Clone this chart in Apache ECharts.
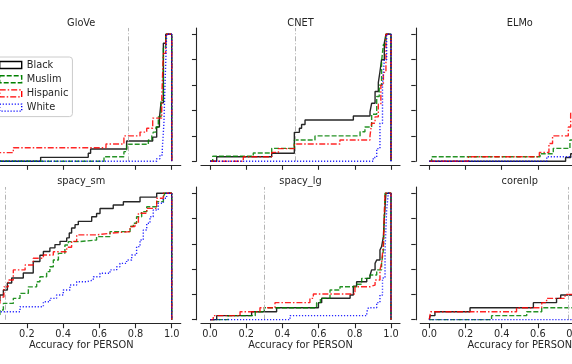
<!DOCTYPE html>
<html><head><meta charset="utf-8">
<script src="https://cdn.jsdelivr.net/npm/echarts@6/dist/echarts.min.js"></script>
<style>html,body{margin:0;padding:0;background:#fff}#c{width:572px;height:364px}</style>
</head><body><div id="c"></div>
<script>
const groups = ['Black', 'Muslim', 'Hispanic', 'White'];
const panels = ['GloVe', 'CNET', 'ELMo', 'spacy_sm', 'spacy_lg', 'corenlp'];
const thresholds = [0.757, 0.466, 0.88, 0.077, 0.298, 0.773];
const xTicks = [0, 0.2, 0.4, 0.6, 0.8, 1.0];
const yTicks = [0, 0.2, 0.4, 0.6, 0.8, 1.0];
const xTitle = 'Accuracy for PERSON';

// [accuracy, cumulative fraction]
const glove_black = [[0,0],[0.276,0.031],[0.539,0.063],[0.552,0.097],[0.751,0.16],[0.895,0.19],[0.917,0.27],[0.932,0.34],[0.941,0.46],[0.954,0.93],[0.967,1],[1,1],[1,0]];
const glove_muslim = [[0,0],[0.626,0.036],[0.736,0.076],[0.751,0.134],[0.871,0.168],[0.89,0.2],[0.899,0.23],[0.913,0.27],[0.926,0.35],[0.941,0.48],[0.954,0.9],[0.967,1],[1,1],[1,0]];
const glove_hispanic = [[0,0],[0.01,0.068],[0.125,0.107],[0.637,0.136],[0.736,0.2],[0.825,0.23],[0.862,0.26],[0.895,0.34],[0.945,0.5],[0.954,0.85],[0.967,1],[1,1],[1,0]];
const glove_white = [[0,0],[0.917,0.02],[0.935,0.05],[0.948,0.1],[0.957,0.3],[0.963,0.6],[0.972,1],[1,1],[1,0]];

const cnet_black = [[0,0],[0.037,0.036],[0.341,0.063],[0.466,0.228],[0.494,0.26],[0.506,0.29],[0.525,0.325],[0.792,0.357],[0.884,0.39],[0.893,0.457],[0.912,0.55],[0.93,0.62],[0.939,0.705],[0.948,0.8],[0.963,0.93],[0.972,1],[1,1],[1,0]];
const cnet_muslim = [[0,0],[0.015,0.04],[0.239,0.065],[0.341,0.102],[0.466,0.168],[0.58,0.2],[0.829,0.233],[0.856,0.27],[0.893,0.37],[0.921,0.51],[0.935,0.6],[0.948,0.79],[0.958,0.92],[0.972,1],[1,1],[1,0]];
const cnet_hispanic = [[0,0],[0.184,0.036],[0.341,0.07],[0.378,0.1],[0.466,0.136],[0.718,0.168],[0.884,0.2],[0.893,0.3],[0.912,0.35],[0.93,0.45],[0.944,0.6],[0.958,0.7],[0.972,1],[1,1],[1,0]];
const cnet_white = [[0,0],[0.902,0.03],[0.921,0.1],[0.939,0.3],[0.953,0.6],[0.963,0.8],[0.976,1],[1,1],[1,0]];

const elmo_black = [[0,0],[0.753,0.03],[0.781,0.06],[0.85,0.1],[0.9,0.2],[0.95,0.5],[0.97,1],[1,1],[1,0]];
const elmo_muslim = [[0,0],[0.013,0.036],[0.612,0.06],[0.685,0.102],[0.777,0.168],[0.85,0.25],[0.9,0.4],[0.95,0.7],[0.97,1],[1,1],[1,0]];
const elmo_hispanic = [[0,0],[0.216,0.036],[0.608,0.07],[0.661,0.14],[0.681,0.2],[0.768,0.27],[0.781,0.378],[0.85,0.45],[0.9,0.55],[0.95,0.8],[0.97,1],[1,1],[1,0]];
const elmo_white = [[0,0],[0.649,0.036],[0.8,0.06],[0.9,0.1],[0.95,0.4],[0.975,1],[1,1],[1,0]];

const sm_black = [[0,0],[0.02,0.15],[0.051,0.195],[0.07,0.235],[0.092,0.29],[0.116,0.33],[0.18,0.37],[0.235,0.46],[0.272,0.51],[0.291,0.54],[0.327,0.568],[0.355,0.594],[0.383,0.62],[0.42,0.647],[0.434,0.686],[0.447,0.726],[0.466,0.752],[0.484,0.778],[0.558,0.815],[0.585,0.84],[0.604,0.88],[0.677,0.907],[0.733,0.933],[0.825,0.97],[0.917,1],[1,1],[1,0]];
const sm_muslim = [[0,0],[0.03,0.04],[0.051,0.077],[0.07,0.129],[0.125,0.169],[0.162,0.208],[0.208,0.26],[0.254,0.3],[0.272,0.34],[0.309,0.38],[0.327,0.419],[0.346,0.472],[0.374,0.525],[0.41,0.591],[0.429,0.618],[0.493,0.631],[0.585,0.657],[0.659,0.697],[0.77,0.737],[0.788,0.763],[0.806,0.815],[0.834,0.855],[0.862,0.894],[0.917,0.934],[0.954,0.974],[0.963,1],[1,1],[1,0]];
const sm_hispanic = [[0,0],[0.02,0.13],[0.051,0.18],[0.073,0.26],[0.097,0.314],[0.125,0.394],[0.19,0.433],[0.235,0.486],[0.291,0.512],[0.346,0.538],[0.42,0.573],[0.447,0.62],[0.475,0.671],[0.585,0.684],[0.659,0.697],[0.77,0.737],[0.797,0.763],[0.816,0.842],[0.862,0.881],[0.917,0.961],[0.954,1],[1,1],[1,0]];
const sm_white = [[0,0],[0.04,0.063],[0.162,0.103],[0.291,0.142],[0.327,0.169],[0.364,0.195],[0.401,0.235],[0.438,0.274],[0.475,0.3],[0.53,0.314],[0.567,0.34],[0.604,0.367],[0.659,0.394],[0.696,0.419],[0.714,0.446],[0.751,0.472],[0.779,0.512],[0.806,0.578],[0.825,0.631],[0.843,0.71],[0.862,0.763],[0.88,0.815],[0.898,0.868],[0.926,0.921],[0.954,0.961],[0.972,1],[1,1],[1,0]];

const lg_black = [[0,0],[0.037,0.032],[0.23,0.063],[0.368,0.095],[0.599,0.135],[0.617,0.17],[0.774,0.195],[0.792,0.266],[0.81,0.3],[0.866,0.327],[0.884,0.35],[0.893,0.394],[0.912,0.446],[0.921,0.472],[0.939,0.551],[0.948,0.578],[0.958,0.657],[0.963,0.802],[0.972,1],[1,1],[1,0]];
const lg_muslim = [[0,0],[0.1,0.032],[0.25,0.063],[0.3,0.095],[0.589,0.135],[0.61,0.169],[0.663,0.235],[0.718,0.261],[0.81,0.28],[0.838,0.327],[0.884,0.354],[0.921,0.394],[0.948,0.446],[0.958,0.55],[0.967,1],[1,1],[1,0]];
const lg_hispanic = [[0,0],[0.018,0.032],[0.166,0.063],[0.276,0.095],[0.359,0.135],[0.552,0.169],[0.571,0.203],[0.801,0.261],[0.884,0.274],[0.912,0.314],[0.939,0.394],[0.948,0.446],[0.958,0.604],[0.967,1],[1,1],[1,0]];
const lg_white = [[0,0],[0.442,0.032],[0.866,0.06],[0.875,0.095],[0.921,0.135],[0.939,0.195],[0.953,0.33],[0.967,0.55],[0.976,0.87],[0.985,1],[1,1],[1,0]];

const core_black = [[0,0],[0.005,0.032],[0.031,0.063],[0.225,0.095],[0.575,0.135],[0.703,0.169],[0.726,0.195],[0.85,0.25],[0.92,0.35],[0.96,0.6],[0.975,1],[1,1],[1,0]];
const core_muslim = [[0,0],[0.344,0.032],[0.538,0.063],[0.621,0.095],[0.8,0.13],[0.9,0.2],[0.95,0.45],[0.975,1],[1,1],[1,0]];
const core_hispanic = [[0,0],[0.007,0.063],[0.482,0.095],[0.621,0.135],[0.648,0.169],[0.75,0.2],[0.85,0.26],[0.92,0.36],[0.96,0.6],[0.975,1],[1,1],[1,0]];
const core_white = [[0,0],[0.85,0.02],[0.93,0.08],[0.96,0.3],[0.985,1],[1,1],[1,0]];

const panelData = [
  [glove_black, glove_muslim, glove_hispanic, glove_white],
  [cnet_black, cnet_muslim, cnet_hispanic, cnet_white],
  [elmo_black, elmo_muslim, elmo_hispanic, elmo_white],
  [sm_black, sm_muslim, sm_hispanic, sm_white],
  [lg_black, lg_muslim, lg_hispanic, lg_white],
  [core_black, core_muslim, core_hispanic, core_white]
];

const colors = ['#000000', '#008000', '#ff0000', '#0000ff'];
const dashes = ['solid', [5, 2], [6, 2, 1.5, 2], [1.2, 1.8]];
const ink = '#262626';
const FONT = 'DejaVu Sans';
const FS = 9.8;

const colZero = [-9.3, 210, 429.3];
const unitX = 181;
const rowOne = [34.3, 193.3];
const unitY = [127, 126.4];

const grids = [], xAxes = [], yAxes = [], series = [], titles = [];
panels.forEach((name, p) => {
  const c = p % 3, r = Math.floor(p / 3);
  grids.push({
    left: colZero[c] - 0.05 * unitX,
    width: 1.1 * unitX,
    top: rowOne[r] - 0.05 * unitY[r],
    height: 1.05 * unitY[r],
    containLabel: false,
    outerBoundsMode: 'none'
  });
  xAxes.push({
    type: 'value', gridIndex: p, min: -0.05, max: 1.05, offset: 4,
    axisLine: {show: true, onZero: false, lineStyle: {color: ink, width: 1.1}},
    axisTick: {show: true, length: 4.5, customValues: xTicks, lineStyle: {color: ink, width: 1.1}},
    axisLabel: {show: r === 1, customValues: xTicks, formatter: v => v.toFixed(1), margin: 6,
      color: ink, fontSize: FS, fontFamily: FONT},
    splitLine: {show: false},
    name: r === 1 ? xTitle : '', nameLocation: 'middle', nameGap: 15,
    nameTextStyle: {color: ink, fontSize: FS, fontFamily: FONT, verticalAlign: 'top'}
  });
  yAxes.push({
    type: 'value', gridIndex: p, min: 0, max: 1.05, offset: 4.5,
    axisLine: {show: true, onZero: false, lineStyle: {color: ink, width: 1.1}},
    axisTick: {show: true, length: 4.5, customValues: yTicks, lineStyle: {color: ink, width: 1.1}},
    axisLabel: {show: false},
    splitLine: {show: false}
  });
  titles.push({
    text: name, left: colZero[c] + 0.5 * unitX, top: r === 0 ? 23.5 : 181.3,
    textAlign: 'center', textVerticalAlign: 'middle', padding: 0,
    textStyle: {fontSize: FS, fontWeight: 'normal', color: ink, fontFamily: FONT}
  });
  groups.forEach((g, k) => {
    const s = {
      type: 'line', name: g, xAxisIndex: p, yAxisIndex: p,
      data: panelData[p][k], step: 'end', symbol: 'none', showSymbol: false,
      silent: true, animation: false, z: 2 + k,
      lineStyle: {color: colors[k], width: 1.4, type: dashes[k], opacity: 0.85},
      itemStyle: {color: colors[k]}
    };
    if (k === 0) {
      s.markLine = {
        silent: true, symbol: 'none', animation: false,
        label: {show: false},
        lineStyle: {color: '#b4b4b4', width: 1, type: [5, 2, 1, 2]},
        data: [{xAxis: thresholds[p]}]
      };
    }
    series.push(s);
  });
});

const chart = echarts.init(document.getElementById('c'), null, {renderer: 'canvas'});
chart.setOption({
  backgroundColor: '#ffffff',
  animation: false,
  title: titles,
  grid: grids,
  xAxis: xAxes,
  yAxis: yAxes,
  legend: {
    orient: 'vertical', left: -7, top: 57,
    selectedMode: false,
    backgroundColor: '#ffffff', borderColor: '#cccccc', borderWidth: 1, borderRadius: 3,
    padding: [2, 4, 3, 6], itemGap: 2.2, itemWidth: 22, itemHeight: 7,
    textStyle: {color: ink, fontSize: FS, fontFamily: FONT, lineHeight: 12},
    data: groups.map((g, k) => ({
      name: g, icon: 'rect',
      itemStyle: {color: 'rgba(0,0,0,0)', borderColor: colors[k], borderWidth: 1.4, borderType: dashes[k]}
    }))
  },
  series: series
});
</script></body></html>
